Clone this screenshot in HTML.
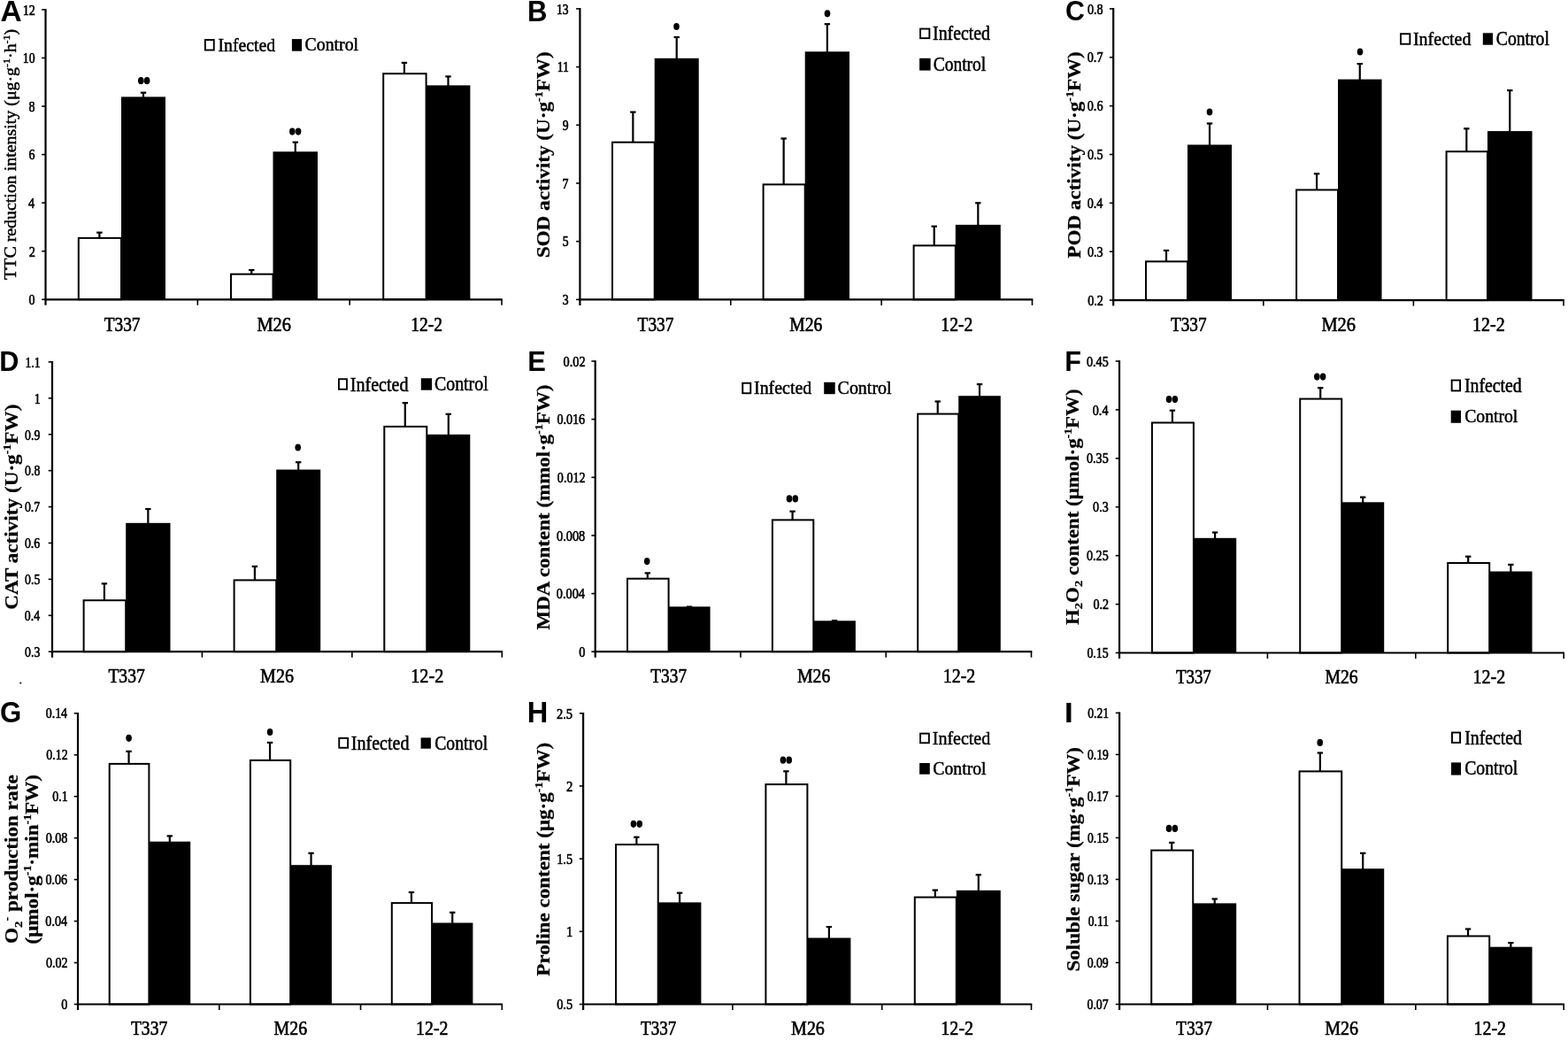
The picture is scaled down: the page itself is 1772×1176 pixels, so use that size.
<!DOCTYPE html>
<html><head><meta charset="utf-8"><title>Figure</title><style>html,body{margin:0;padding:0;background:#fff;width:1772px;height:1176px;overflow:hidden}svg{display:block;filter:blur(0.35px)}</style></head><body>
<svg width="1772" height="1176" viewBox="0 0 1772 1176"><rect width="1772" height="1176" fill="#fff"/><line x1="51.5" y1="10.1" x2="51.5" y2="344.8" stroke="#000" stroke-width="2.2"/>
<line x1="47.2" y1="10.9" x2="51.5" y2="10.9" stroke="#000" stroke-width="1.6"/>
<line x1="47.2" y1="65.467" x2="51.5" y2="65.467" stroke="#000" stroke-width="1.6"/>
<line x1="47.2" y1="120.033" x2="51.5" y2="120.033" stroke="#000" stroke-width="1.6"/>
<line x1="47.2" y1="174.6" x2="51.5" y2="174.6" stroke="#000" stroke-width="1.6"/>
<line x1="47.2" y1="229.167" x2="51.5" y2="229.167" stroke="#000" stroke-width="1.6"/>
<line x1="47.2" y1="283.733" x2="51.5" y2="283.733" stroke="#000" stroke-width="1.6"/>
<line x1="47.2" y1="338.3" x2="51.5" y2="338.3" stroke="#000" stroke-width="1.6"/>
<rect x="88.8" y="268.9" width="48.2" height="69.4" fill="#fff" stroke="#000" stroke-width="2"/>
<rect x="137" y="109.4" width="50" height="228.9" fill="#000"/>
<line x1="112.4" y1="268.9" x2="112.4" y2="262.7" stroke="#000" stroke-width="2.2"/>
<line x1="109.2" y1="262.7" x2="115.6" y2="262.7" stroke="#000" stroke-width="2.2"/>
<line x1="162" y1="110.4" x2="162" y2="104.7" stroke="#000" stroke-width="2.2"/>
<line x1="158.8" y1="104.7" x2="165.2" y2="104.7" stroke="#000" stroke-width="2.2"/>
<rect x="261" y="309.7" width="47.5" height="28.6" fill="#fff" stroke="#000" stroke-width="2"/>
<rect x="308.5" y="171.3" width="50.5" height="167" fill="#000"/>
<line x1="284.25" y1="309.7" x2="284.25" y2="305.1" stroke="#000" stroke-width="2.2"/>
<line x1="281.05" y1="305.1" x2="287.45" y2="305.1" stroke="#000" stroke-width="2.2"/>
<line x1="333.75" y1="172.3" x2="333.75" y2="160.7" stroke="#000" stroke-width="2.2"/>
<line x1="330.55" y1="160.7" x2="336.95" y2="160.7" stroke="#000" stroke-width="2.2"/>
<rect x="433.2" y="83.2" width="48.4" height="255.1" fill="#fff" stroke="#000" stroke-width="2"/>
<rect x="481.6" y="96.4" width="49.8" height="241.9" fill="#000"/>
<line x1="456.9" y1="83.2" x2="456.9" y2="70.9" stroke="#000" stroke-width="2.2"/>
<line x1="453.7" y1="70.9" x2="460.1" y2="70.9" stroke="#000" stroke-width="2.2"/>
<line x1="506.5" y1="97.4" x2="506.5" y2="86.4" stroke="#000" stroke-width="2.2"/>
<line x1="503.3" y1="86.4" x2="509.7" y2="86.4" stroke="#000" stroke-width="2.2"/>
<line x1="50.4" y1="338.3" x2="567.8" y2="338.3" stroke="#000" stroke-width="2.2"/>
<line x1="223.333" y1="338.3" x2="223.333" y2="344.8" stroke="#000" stroke-width="1.6"/>
<line x1="395.167" y1="338.3" x2="395.167" y2="344.8" stroke="#000" stroke-width="1.6"/>
<line x1="567" y1="338.3" x2="567" y2="344.8" stroke="#000" stroke-width="1.6"/>
<ellipse cx="159.3" cy="91.2" rx="3.3" ry="4.1" fill="#000"/>
<ellipse cx="166.1" cy="91.2" rx="3.3" ry="4.1" fill="#000"/>
<ellipse cx="330.3" cy="148.6" rx="3.3" ry="4.1" fill="#000"/>
<ellipse cx="337.1" cy="148.6" rx="3.3" ry="4.1" fill="#000"/>
<rect x="231.85" y="45.05" width="9.9" height="11.5" fill="#fff" stroke="#000" stroke-width="1.9"/>
<rect x="329.9" y="44.1" width="11.2" height="13.6" fill="#000"/>
<line x1="655.4" y1="9.1" x2="655.4" y2="344.9" stroke="#000" stroke-width="2.2"/>
<line x1="651.1" y1="9.9" x2="655.4" y2="9.9" stroke="#000" stroke-width="1.6"/>
<line x1="651.1" y1="75.6" x2="655.4" y2="75.6" stroke="#000" stroke-width="1.6"/>
<line x1="651.1" y1="141.3" x2="655.4" y2="141.3" stroke="#000" stroke-width="1.6"/>
<line x1="651.1" y1="207" x2="655.4" y2="207" stroke="#000" stroke-width="1.6"/>
<line x1="651.1" y1="272.7" x2="655.4" y2="272.7" stroke="#000" stroke-width="1.6"/>
<line x1="651.1" y1="338.4" x2="655.4" y2="338.4" stroke="#000" stroke-width="1.6"/>
<rect x="692" y="160.7" width="47.7" height="177.7" fill="#fff" stroke="#000" stroke-width="2"/>
<rect x="739.7" y="65.8" width="50" height="272.6" fill="#000"/>
<line x1="715.35" y1="160.7" x2="715.35" y2="126.6" stroke="#000" stroke-width="2.2"/>
<line x1="712.15" y1="126.6" x2="718.55" y2="126.6" stroke="#000" stroke-width="2.2"/>
<line x1="764.7" y1="66.8" x2="764.7" y2="42" stroke="#000" stroke-width="2.2"/>
<line x1="761.5" y1="42" x2="767.9" y2="42" stroke="#000" stroke-width="2.2"/>
<rect x="862.6" y="208.4" width="47.1" height="130" fill="#fff" stroke="#000" stroke-width="2"/>
<rect x="909.7" y="58.3" width="50.3" height="280.1" fill="#000"/>
<line x1="885.65" y1="208.4" x2="885.65" y2="156.5" stroke="#000" stroke-width="2.2"/>
<line x1="882.45" y1="156.5" x2="888.85" y2="156.5" stroke="#000" stroke-width="2.2"/>
<line x1="934.85" y1="59.3" x2="934.85" y2="27.2" stroke="#000" stroke-width="2.2"/>
<line x1="931.65" y1="27.2" x2="938.05" y2="27.2" stroke="#000" stroke-width="2.2"/>
<rect x="1032.6" y="277.4" width="47.2" height="61" fill="#fff" stroke="#000" stroke-width="2"/>
<rect x="1079.8" y="253.9" width="51" height="84.5" fill="#000"/>
<line x1="1055.7" y1="277.4" x2="1055.7" y2="255.7" stroke="#000" stroke-width="2.2"/>
<line x1="1052.5" y1="255.7" x2="1058.9" y2="255.7" stroke="#000" stroke-width="2.2"/>
<line x1="1105.3" y1="254.9" x2="1105.3" y2="229.3" stroke="#000" stroke-width="2.2"/>
<line x1="1102.1" y1="229.3" x2="1108.5" y2="229.3" stroke="#000" stroke-width="2.2"/>
<line x1="654.3" y1="338.4" x2="1167.3" y2="338.4" stroke="#000" stroke-width="2.2"/>
<line x1="825.767" y1="338.4" x2="825.767" y2="344.9" stroke="#000" stroke-width="1.6"/>
<line x1="996.133" y1="338.4" x2="996.133" y2="344.9" stroke="#000" stroke-width="1.6"/>
<line x1="1166.5" y1="338.4" x2="1166.5" y2="344.9" stroke="#000" stroke-width="1.6"/>
<ellipse cx="764.5" cy="30" rx="3.3" ry="4.1" fill="#000"/>
<ellipse cx="935" cy="15.3" rx="3.3" ry="4.1" fill="#000"/>
<rect x="1040.05" y="32.55" width="10.3" height="10.6" fill="#fff" stroke="#000" stroke-width="1.9"/>
<rect x="1039.1" y="65.8" width="12.5" height="13.8" fill="#000"/>
<line x1="1258.2" y1="9.1" x2="1258.2" y2="345.6" stroke="#000" stroke-width="2.2"/>
<line x1="1253.9" y1="9.9" x2="1258.2" y2="9.9" stroke="#000" stroke-width="1.6"/>
<line x1="1253.9" y1="64.767" x2="1258.2" y2="64.767" stroke="#000" stroke-width="1.6"/>
<line x1="1253.9" y1="119.633" x2="1258.2" y2="119.633" stroke="#000" stroke-width="1.6"/>
<line x1="1253.9" y1="174.5" x2="1258.2" y2="174.5" stroke="#000" stroke-width="1.6"/>
<line x1="1253.9" y1="229.367" x2="1258.2" y2="229.367" stroke="#000" stroke-width="1.6"/>
<line x1="1253.9" y1="284.233" x2="1258.2" y2="284.233" stroke="#000" stroke-width="1.6"/>
<line x1="1253.9" y1="339.1" x2="1258.2" y2="339.1" stroke="#000" stroke-width="1.6"/>
<rect x="1295" y="295.4" width="47" height="43.7" fill="#fff" stroke="#000" stroke-width="2"/>
<rect x="1342" y="163.5" width="50" height="175.6" fill="#000"/>
<line x1="1318" y1="295.4" x2="1318" y2="283" stroke="#000" stroke-width="2.2"/>
<line x1="1314.8" y1="283" x2="1321.2" y2="283" stroke="#000" stroke-width="2.2"/>
<line x1="1367" y1="164.5" x2="1367" y2="139.5" stroke="#000" stroke-width="2.2"/>
<line x1="1363.8" y1="139.5" x2="1370.2" y2="139.5" stroke="#000" stroke-width="2.2"/>
<rect x="1465.1" y="214.5" width="46.9" height="124.6" fill="#fff" stroke="#000" stroke-width="2"/>
<rect x="1512" y="89.6" width="49.5" height="249.5" fill="#000"/>
<line x1="1488.05" y1="214.5" x2="1488.05" y2="196.3" stroke="#000" stroke-width="2.2"/>
<line x1="1484.85" y1="196.3" x2="1491.25" y2="196.3" stroke="#000" stroke-width="2.2"/>
<line x1="1536.75" y1="90.6" x2="1536.75" y2="72.1" stroke="#000" stroke-width="2.2"/>
<line x1="1533.55" y1="72.1" x2="1539.95" y2="72.1" stroke="#000" stroke-width="2.2"/>
<rect x="1634.6" y="171.2" width="46.4" height="167.9" fill="#fff" stroke="#000" stroke-width="2"/>
<rect x="1681" y="148.1" width="50.5" height="191" fill="#000"/>
<line x1="1657.3" y1="171.2" x2="1657.3" y2="145.3" stroke="#000" stroke-width="2.2"/>
<line x1="1654.1" y1="145.3" x2="1660.5" y2="145.3" stroke="#000" stroke-width="2.2"/>
<line x1="1706.25" y1="149.1" x2="1706.25" y2="102.1" stroke="#000" stroke-width="2.2"/>
<line x1="1703.05" y1="102.1" x2="1709.45" y2="102.1" stroke="#000" stroke-width="2.2"/>
<line x1="1257.1" y1="339.1" x2="1767.8" y2="339.1" stroke="#000" stroke-width="2.2"/>
<line x1="1427.8" y1="339.1" x2="1427.8" y2="345.6" stroke="#000" stroke-width="1.6"/>
<line x1="1597.4" y1="339.1" x2="1597.4" y2="345.6" stroke="#000" stroke-width="1.6"/>
<line x1="1767" y1="339.1" x2="1767" y2="345.6" stroke="#000" stroke-width="1.6"/>
<ellipse cx="1367" cy="126.5" rx="3.3" ry="4.1" fill="#000"/>
<ellipse cx="1537" cy="58.5" rx="3.3" ry="4.1" fill="#000"/>
<rect x="1582.95" y="38.25" width="10.4" height="11.5" fill="#fff" stroke="#000" stroke-width="1.9"/>
<rect x="1675.8" y="37.3" width="11.2" height="13.4" fill="#000"/>
<line x1="59" y1="408.1" x2="59" y2="742.7" stroke="#000" stroke-width="2.2"/>
<line x1="54.7" y1="408.9" x2="59" y2="408.9" stroke="#000" stroke-width="1.6"/>
<line x1="54.7" y1="449.812" x2="59" y2="449.812" stroke="#000" stroke-width="1.6"/>
<line x1="54.7" y1="490.725" x2="59" y2="490.725" stroke="#000" stroke-width="1.6"/>
<line x1="54.7" y1="531.638" x2="59" y2="531.638" stroke="#000" stroke-width="1.6"/>
<line x1="54.7" y1="572.55" x2="59" y2="572.55" stroke="#000" stroke-width="1.6"/>
<line x1="54.7" y1="613.463" x2="59" y2="613.463" stroke="#000" stroke-width="1.6"/>
<line x1="54.7" y1="654.375" x2="59" y2="654.375" stroke="#000" stroke-width="1.6"/>
<line x1="54.7" y1="695.288" x2="59" y2="695.288" stroke="#000" stroke-width="1.6"/>
<line x1="54.7" y1="736.2" x2="59" y2="736.2" stroke="#000" stroke-width="1.6"/>
<rect x="94.6" y="678.2" width="47.6" height="58" fill="#fff" stroke="#000" stroke-width="2"/>
<rect x="142.2" y="590.8" width="50.3" height="145.4" fill="#000"/>
<line x1="117.9" y1="678.2" x2="117.9" y2="659.3" stroke="#000" stroke-width="2.2"/>
<line x1="114.7" y1="659.3" x2="121.1" y2="659.3" stroke="#000" stroke-width="2.2"/>
<line x1="167.35" y1="591.8" x2="167.35" y2="575" stroke="#000" stroke-width="2.2"/>
<line x1="164.15" y1="575" x2="170.55" y2="575" stroke="#000" stroke-width="2.2"/>
<rect x="264.6" y="655.4" width="47.6" height="80.8" fill="#fff" stroke="#000" stroke-width="2"/>
<rect x="312.2" y="530.5" width="50" height="205.7" fill="#000"/>
<line x1="287.9" y1="655.4" x2="287.9" y2="639.9" stroke="#000" stroke-width="2.2"/>
<line x1="284.7" y1="639.9" x2="291.1" y2="639.9" stroke="#000" stroke-width="2.2"/>
<line x1="337.2" y1="531.5" x2="337.2" y2="522.2" stroke="#000" stroke-width="2.2"/>
<line x1="334" y1="522.2" x2="340.4" y2="522.2" stroke="#000" stroke-width="2.2"/>
<rect x="434.3" y="481.9" width="48" height="254.3" fill="#fff" stroke="#000" stroke-width="2"/>
<rect x="482.3" y="490.8" width="49" height="245.4" fill="#000"/>
<line x1="457.8" y1="481.9" x2="457.8" y2="455.2" stroke="#000" stroke-width="2.2"/>
<line x1="454.6" y1="455.2" x2="461" y2="455.2" stroke="#000" stroke-width="2.2"/>
<line x1="506.8" y1="491.8" x2="506.8" y2="467.8" stroke="#000" stroke-width="2.2"/>
<line x1="503.6" y1="467.8" x2="510" y2="467.8" stroke="#000" stroke-width="2.2"/>
<line x1="57.9" y1="736.2" x2="568.1" y2="736.2" stroke="#000" stroke-width="2.2"/>
<line x1="228.433" y1="736.2" x2="228.433" y2="742.7" stroke="#000" stroke-width="1.6"/>
<line x1="397.867" y1="736.2" x2="397.867" y2="742.7" stroke="#000" stroke-width="1.6"/>
<line x1="567.3" y1="736.2" x2="567.3" y2="742.7" stroke="#000" stroke-width="1.6"/>
<ellipse cx="336.7" cy="505.5" rx="3.3" ry="4.1" fill="#000"/>
<rect x="382.95" y="428.25" width="9" height="11.5" fill="#fff" stroke="#000" stroke-width="1.9"/>
<rect x="475.8" y="427.3" width="12.3" height="13.4" fill="#000"/>
<line x1="672.7" y1="407.2" x2="672.7" y2="742.7" stroke="#000" stroke-width="2.2"/>
<line x1="668.4" y1="408" x2="672.7" y2="408" stroke="#000" stroke-width="1.6"/>
<line x1="668.4" y1="473.64" x2="672.7" y2="473.64" stroke="#000" stroke-width="1.6"/>
<line x1="668.4" y1="539.28" x2="672.7" y2="539.28" stroke="#000" stroke-width="1.6"/>
<line x1="668.4" y1="604.92" x2="672.7" y2="604.92" stroke="#000" stroke-width="1.6"/>
<line x1="668.4" y1="670.56" x2="672.7" y2="670.56" stroke="#000" stroke-width="1.6"/>
<line x1="668.4" y1="736.2" x2="672.7" y2="736.2" stroke="#000" stroke-width="1.6"/>
<rect x="709" y="653.7" width="46.6" height="82.5" fill="#fff" stroke="#000" stroke-width="2"/>
<rect x="755.6" y="685.3" width="47" height="50.9" fill="#000"/>
<line x1="731.8" y1="653.7" x2="731.8" y2="647.4" stroke="#000" stroke-width="2.2"/>
<line x1="728.6" y1="647.4" x2="735" y2="647.4" stroke="#000" stroke-width="2.2"/>
<line x1="779.1" y1="686.3" x2="779.1" y2="685.5" stroke="#000" stroke-width="2.2"/>
<line x1="775.9" y1="685.5" x2="782.3" y2="685.5" stroke="#000" stroke-width="2.2"/>
<rect x="872.9" y="587.4" width="46.4" height="148.8" fill="#fff" stroke="#000" stroke-width="2"/>
<rect x="919.3" y="701.3" width="47.6" height="34.9" fill="#000"/>
<line x1="895.6" y1="587.4" x2="895.6" y2="577.7" stroke="#000" stroke-width="2.2"/>
<line x1="892.4" y1="577.7" x2="898.8" y2="577.7" stroke="#000" stroke-width="2.2"/>
<line x1="943.1" y1="702.3" x2="943.1" y2="701.1" stroke="#000" stroke-width="2.2"/>
<line x1="939.9" y1="701.1" x2="946.3" y2="701.1" stroke="#000" stroke-width="2.2"/>
<rect x="1037.2" y="467.6" width="46" height="268.6" fill="#fff" stroke="#000" stroke-width="2"/>
<rect x="1083.2" y="447.2" width="47.6" height="289" fill="#000"/>
<line x1="1059.7" y1="467.6" x2="1059.7" y2="453.5" stroke="#000" stroke-width="2.2"/>
<line x1="1056.5" y1="453.5" x2="1062.9" y2="453.5" stroke="#000" stroke-width="2.2"/>
<line x1="1107" y1="448.2" x2="1107" y2="434.1" stroke="#000" stroke-width="2.2"/>
<line x1="1103.8" y1="434.1" x2="1110.2" y2="434.1" stroke="#000" stroke-width="2.2"/>
<line x1="671.6" y1="736.2" x2="1166.3" y2="736.2" stroke="#000" stroke-width="2.2"/>
<line x1="836.967" y1="736.2" x2="836.967" y2="742.7" stroke="#000" stroke-width="1.6"/>
<line x1="1001.233" y1="736.2" x2="1001.233" y2="742.7" stroke="#000" stroke-width="1.6"/>
<line x1="1165.5" y1="736.2" x2="1165.5" y2="742.7" stroke="#000" stroke-width="1.6"/>
<ellipse cx="731.2" cy="634.1" rx="3.3" ry="4.1" fill="#000"/>
<ellipse cx="892" cy="563.4" rx="3.3" ry="4.1" fill="#000"/>
<ellipse cx="898.8" cy="563.4" rx="3.3" ry="4.1" fill="#000"/>
<rect x="839.25" y="432.75" width="9" height="11.5" fill="#fff" stroke="#000" stroke-width="1.9"/>
<rect x="931.2" y="431.8" width="12.5" height="13.4" fill="#000"/>
<line x1="1265" y1="407.2" x2="1265" y2="744" stroke="#000" stroke-width="2.2"/>
<line x1="1260.7" y1="408" x2="1265" y2="408" stroke="#000" stroke-width="1.6"/>
<line x1="1260.7" y1="462.917" x2="1265" y2="462.917" stroke="#000" stroke-width="1.6"/>
<line x1="1260.7" y1="517.833" x2="1265" y2="517.833" stroke="#000" stroke-width="1.6"/>
<line x1="1260.7" y1="572.75" x2="1265" y2="572.75" stroke="#000" stroke-width="1.6"/>
<line x1="1260.7" y1="627.667" x2="1265" y2="627.667" stroke="#000" stroke-width="1.6"/>
<line x1="1260.7" y1="682.583" x2="1265" y2="682.583" stroke="#000" stroke-width="1.6"/>
<line x1="1260.7" y1="737.5" x2="1265" y2="737.5" stroke="#000" stroke-width="1.6"/>
<rect x="1301.9" y="477.5" width="47" height="260" fill="#fff" stroke="#000" stroke-width="2"/>
<rect x="1348.9" y="607.8" width="48.3" height="129.7" fill="#000"/>
<line x1="1324.9" y1="477.5" x2="1324.9" y2="463.7" stroke="#000" stroke-width="2.2"/>
<line x1="1321.7" y1="463.7" x2="1328.1" y2="463.7" stroke="#000" stroke-width="2.2"/>
<line x1="1373.05" y1="608.8" x2="1373.05" y2="601.5" stroke="#000" stroke-width="2.2"/>
<line x1="1369.85" y1="601.5" x2="1376.25" y2="601.5" stroke="#000" stroke-width="2.2"/>
<rect x="1469.2" y="450.6" width="47" height="286.9" fill="#fff" stroke="#000" stroke-width="2"/>
<rect x="1516.2" y="567.3" width="48" height="170.2" fill="#000"/>
<line x1="1492.2" y1="450.6" x2="1492.2" y2="438.2" stroke="#000" stroke-width="2.2"/>
<line x1="1489" y1="438.2" x2="1495.4" y2="438.2" stroke="#000" stroke-width="2.2"/>
<line x1="1540.2" y1="568.3" x2="1540.2" y2="561.7" stroke="#000" stroke-width="2.2"/>
<line x1="1537" y1="561.7" x2="1543.4" y2="561.7" stroke="#000" stroke-width="2.2"/>
<rect x="1636.2" y="636" width="47" height="101.5" fill="#fff" stroke="#000" stroke-width="2"/>
<rect x="1683.2" y="645.5" width="48.3" height="92" fill="#000"/>
<line x1="1659.2" y1="636" x2="1659.2" y2="628.7" stroke="#000" stroke-width="2.2"/>
<line x1="1656" y1="628.7" x2="1662.4" y2="628.7" stroke="#000" stroke-width="2.2"/>
<line x1="1707.35" y1="646.5" x2="1707.35" y2="637.9" stroke="#000" stroke-width="2.2"/>
<line x1="1704.15" y1="637.9" x2="1710.55" y2="637.9" stroke="#000" stroke-width="2.2"/>
<line x1="1263.9" y1="737.5" x2="1768" y2="737.5" stroke="#000" stroke-width="2.2"/>
<line x1="1432.4" y1="737.5" x2="1432.4" y2="744" stroke="#000" stroke-width="1.6"/>
<line x1="1599.8" y1="737.5" x2="1599.8" y2="744" stroke="#000" stroke-width="1.6"/>
<line x1="1767.2" y1="737.5" x2="1767.2" y2="744" stroke="#000" stroke-width="1.6"/>
<ellipse cx="1321" cy="451.1" rx="3.3" ry="4.1" fill="#000"/>
<ellipse cx="1327.8" cy="451.1" rx="3.3" ry="4.1" fill="#000"/>
<ellipse cx="1488.3" cy="425.6" rx="3.3" ry="4.1" fill="#000"/>
<ellipse cx="1495.1" cy="425.6" rx="3.3" ry="4.1" fill="#000"/>
<rect x="1640.65" y="429.55" width="9.4" height="11.9" fill="#fff" stroke="#000" stroke-width="1.9"/>
<rect x="1639.7" y="463.7" width="11.3" height="14.1" fill="#000"/>
<line x1="88" y1="805" x2="88" y2="1141" stroke="#000" stroke-width="2.2"/>
<line x1="83.7" y1="805.8" x2="88" y2="805.8" stroke="#000" stroke-width="1.6"/>
<line x1="83.7" y1="852.757" x2="88" y2="852.757" stroke="#000" stroke-width="1.6"/>
<line x1="83.7" y1="899.714" x2="88" y2="899.714" stroke="#000" stroke-width="1.6"/>
<line x1="83.7" y1="946.671" x2="88" y2="946.671" stroke="#000" stroke-width="1.6"/>
<line x1="83.7" y1="993.629" x2="88" y2="993.629" stroke="#000" stroke-width="1.6"/>
<line x1="83.7" y1="1040.586" x2="88" y2="1040.586" stroke="#000" stroke-width="1.6"/>
<line x1="83.7" y1="1087.543" x2="88" y2="1087.543" stroke="#000" stroke-width="1.6"/>
<line x1="83.7" y1="1134.5" x2="88" y2="1134.5" stroke="#000" stroke-width="1.6"/>
<rect x="123.7" y="862.9" width="44.7" height="271.6" fill="#fff" stroke="#000" stroke-width="2"/>
<rect x="168.4" y="950.7" width="46.8" height="183.8" fill="#000"/>
<line x1="145.55" y1="862.9" x2="145.55" y2="848.8" stroke="#000" stroke-width="2.2"/>
<line x1="142.35" y1="848.8" x2="148.75" y2="848.8" stroke="#000" stroke-width="2.2"/>
<line x1="191.8" y1="951.7" x2="191.8" y2="944.4" stroke="#000" stroke-width="2.2"/>
<line x1="188.6" y1="944.4" x2="195" y2="944.4" stroke="#000" stroke-width="2.2"/>
<rect x="282.9" y="858.9" width="45.3" height="275.6" fill="#fff" stroke="#000" stroke-width="2"/>
<rect x="328.2" y="977.2" width="46.7" height="157.3" fill="#000"/>
<line x1="305.05" y1="858.9" x2="305.05" y2="838.9" stroke="#000" stroke-width="2.2"/>
<line x1="301.85" y1="838.9" x2="308.25" y2="838.9" stroke="#000" stroke-width="2.2"/>
<line x1="351.55" y1="978.2" x2="351.55" y2="963.8" stroke="#000" stroke-width="2.2"/>
<line x1="348.35" y1="963.8" x2="354.75" y2="963.8" stroke="#000" stroke-width="2.2"/>
<rect x="442.8" y="1020.1" width="45.3" height="114.4" fill="#fff" stroke="#000" stroke-width="2"/>
<rect x="488.1" y="1042.5" width="46.3" height="92" fill="#000"/>
<line x1="464.95" y1="1020.1" x2="464.95" y2="1008" stroke="#000" stroke-width="2.2"/>
<line x1="461.75" y1="1008" x2="468.15" y2="1008" stroke="#000" stroke-width="2.2"/>
<line x1="511.25" y1="1043.5" x2="511.25" y2="1030.8" stroke="#000" stroke-width="2.2"/>
<line x1="508.05" y1="1030.8" x2="514.45" y2="1030.8" stroke="#000" stroke-width="2.2"/>
<line x1="86.9" y1="1134.5" x2="568.1" y2="1134.5" stroke="#000" stroke-width="2.2"/>
<line x1="247.767" y1="1134.5" x2="247.767" y2="1141" stroke="#000" stroke-width="1.6"/>
<line x1="407.533" y1="1134.5" x2="407.533" y2="1141" stroke="#000" stroke-width="1.6"/>
<line x1="567.3" y1="1134.5" x2="567.3" y2="1141" stroke="#000" stroke-width="1.6"/>
<ellipse cx="145.6" cy="833.8" rx="3.3" ry="4.1" fill="#000"/>
<ellipse cx="305.1" cy="827" rx="3.3" ry="4.1" fill="#000"/>
<rect x="383.25" y="833.85" width="9.9" height="10.9" fill="#fff" stroke="#000" stroke-width="1.9"/>
<rect x="475.6" y="833.4" width="11.3" height="12.3" fill="#000"/>
<line x1="659.1" y1="805" x2="659.1" y2="1141" stroke="#000" stroke-width="2.2"/>
<line x1="654.8" y1="805.8" x2="659.1" y2="805.8" stroke="#000" stroke-width="1.6"/>
<line x1="654.8" y1="887.975" x2="659.1" y2="887.975" stroke="#000" stroke-width="1.6"/>
<line x1="654.8" y1="970.15" x2="659.1" y2="970.15" stroke="#000" stroke-width="1.6"/>
<line x1="654.8" y1="1052.325" x2="659.1" y2="1052.325" stroke="#000" stroke-width="1.6"/>
<line x1="654.8" y1="1134.5" x2="659.1" y2="1134.5" stroke="#000" stroke-width="1.6"/>
<rect x="696" y="954.1" width="47.7" height="180.4" fill="#fff" stroke="#000" stroke-width="2"/>
<rect x="743.7" y="1019.4" width="48.7" height="115.1" fill="#000"/>
<line x1="719.35" y1="954.1" x2="719.35" y2="945.7" stroke="#000" stroke-width="2.2"/>
<line x1="716.15" y1="945.7" x2="722.55" y2="945.7" stroke="#000" stroke-width="2.2"/>
<line x1="768.05" y1="1020.4" x2="768.05" y2="1008.7" stroke="#000" stroke-width="2.2"/>
<line x1="764.85" y1="1008.7" x2="771.25" y2="1008.7" stroke="#000" stroke-width="2.2"/>
<rect x="865.4" y="886.1" width="47" height="248.4" fill="#fff" stroke="#000" stroke-width="2"/>
<rect x="912.4" y="1059.5" width="49" height="75" fill="#000"/>
<line x1="888.4" y1="886.1" x2="888.4" y2="871.3" stroke="#000" stroke-width="2.2"/>
<line x1="885.2" y1="871.3" x2="891.6" y2="871.3" stroke="#000" stroke-width="2.2"/>
<line x1="936.9" y1="1060.5" x2="936.9" y2="1047.1" stroke="#000" stroke-width="2.2"/>
<line x1="933.7" y1="1047.1" x2="940.1" y2="1047.1" stroke="#000" stroke-width="2.2"/>
<rect x="1033.8" y="1013.6" width="47" height="120.9" fill="#fff" stroke="#000" stroke-width="2"/>
<rect x="1080.8" y="1005.8" width="50" height="128.7" fill="#000"/>
<line x1="1056.8" y1="1013.6" x2="1056.8" y2="1005.6" stroke="#000" stroke-width="2.2"/>
<line x1="1053.6" y1="1005.6" x2="1060" y2="1005.6" stroke="#000" stroke-width="2.2"/>
<line x1="1105.8" y1="1006.8" x2="1105.8" y2="988.3" stroke="#000" stroke-width="2.2"/>
<line x1="1102.6" y1="988.3" x2="1109" y2="988.3" stroke="#000" stroke-width="2.2"/>
<line x1="658" y1="1134.5" x2="1166.3" y2="1134.5" stroke="#000" stroke-width="2.2"/>
<line x1="827.9" y1="1134.5" x2="827.9" y2="1141" stroke="#000" stroke-width="1.6"/>
<line x1="996.7" y1="1134.5" x2="996.7" y2="1141" stroke="#000" stroke-width="1.6"/>
<line x1="1165.5" y1="1134.5" x2="1165.5" y2="1141" stroke="#000" stroke-width="1.6"/>
<ellipse cx="715.9" cy="930.8" rx="3.3" ry="4.1" fill="#000"/>
<ellipse cx="722.7" cy="930.8" rx="3.3" ry="4.1" fill="#000"/>
<ellipse cx="884.9" cy="858.7" rx="3.3" ry="4.1" fill="#000"/>
<ellipse cx="891.7" cy="858.7" rx="3.3" ry="4.1" fill="#000"/>
<rect x="1040.05" y="828.65" width="9.8" height="10.6" fill="#fff" stroke="#000" stroke-width="1.9"/>
<rect x="1039.1" y="862" width="11.7" height="12.7" fill="#000"/>
<line x1="1265.1" y1="804.6" x2="1265.1" y2="1141" stroke="#000" stroke-width="2.2"/>
<line x1="1260.8" y1="805.4" x2="1265.1" y2="805.4" stroke="#000" stroke-width="1.6"/>
<line x1="1260.8" y1="852.414" x2="1265.1" y2="852.414" stroke="#000" stroke-width="1.6"/>
<line x1="1260.8" y1="899.429" x2="1265.1" y2="899.429" stroke="#000" stroke-width="1.6"/>
<line x1="1260.8" y1="946.443" x2="1265.1" y2="946.443" stroke="#000" stroke-width="1.6"/>
<line x1="1260.8" y1="993.457" x2="1265.1" y2="993.457" stroke="#000" stroke-width="1.6"/>
<line x1="1260.8" y1="1040.471" x2="1265.1" y2="1040.471" stroke="#000" stroke-width="1.6"/>
<line x1="1260.8" y1="1087.486" x2="1265.1" y2="1087.486" stroke="#000" stroke-width="1.6"/>
<line x1="1260.8" y1="1134.5" x2="1265.1" y2="1134.5" stroke="#000" stroke-width="1.6"/>
<rect x="1301.2" y="960.6" width="47" height="173.9" fill="#fff" stroke="#000" stroke-width="2"/>
<rect x="1348.2" y="1020.4" width="49" height="114.1" fill="#000"/>
<line x1="1324.2" y1="960.6" x2="1324.2" y2="951.9" stroke="#000" stroke-width="2.2"/>
<line x1="1321" y1="951.9" x2="1327.4" y2="951.9" stroke="#000" stroke-width="2.2"/>
<line x1="1372.7" y1="1021.4" x2="1372.7" y2="1015.5" stroke="#000" stroke-width="2.2"/>
<line x1="1369.5" y1="1015.5" x2="1375.9" y2="1015.5" stroke="#000" stroke-width="2.2"/>
<rect x="1468.5" y="871.4" width="47.7" height="263.1" fill="#fff" stroke="#000" stroke-width="2"/>
<rect x="1516.2" y="981.3" width="48" height="153.2" fill="#000"/>
<line x1="1491.85" y1="871.4" x2="1491.85" y2="850.5" stroke="#000" stroke-width="2.2"/>
<line x1="1488.65" y1="850.5" x2="1495.05" y2="850.5" stroke="#000" stroke-width="2.2"/>
<line x1="1540.2" y1="982.3" x2="1540.2" y2="963.8" stroke="#000" stroke-width="2.2"/>
<line x1="1537" y1="963.8" x2="1543.4" y2="963.8" stroke="#000" stroke-width="2.2"/>
<rect x="1635.9" y="1057.5" width="47.3" height="77" fill="#fff" stroke="#000" stroke-width="2"/>
<rect x="1683.2" y="1069.7" width="48.3" height="64.8" fill="#000"/>
<line x1="1659.05" y1="1057.5" x2="1659.05" y2="1049.5" stroke="#000" stroke-width="2.2"/>
<line x1="1655.85" y1="1049.5" x2="1662.25" y2="1049.5" stroke="#000" stroke-width="2.2"/>
<line x1="1707.35" y1="1070.7" x2="1707.35" y2="1065.1" stroke="#000" stroke-width="2.2"/>
<line x1="1704.15" y1="1065.1" x2="1710.55" y2="1065.1" stroke="#000" stroke-width="2.2"/>
<line x1="1264" y1="1134.5" x2="1768" y2="1134.5" stroke="#000" stroke-width="2.2"/>
<line x1="1432.467" y1="1134.5" x2="1432.467" y2="1141" stroke="#000" stroke-width="1.6"/>
<line x1="1599.833" y1="1134.5" x2="1599.833" y2="1141" stroke="#000" stroke-width="1.6"/>
<line x1="1767.2" y1="1134.5" x2="1767.2" y2="1141" stroke="#000" stroke-width="1.6"/>
<ellipse cx="1321" cy="935.9" rx="3.3" ry="4.1" fill="#000"/>
<ellipse cx="1327.8" cy="935.9" rx="3.3" ry="4.1" fill="#000"/>
<ellipse cx="1491.7" cy="838.9" rx="3.3" ry="4.1" fill="#000"/>
<rect x="1640.95" y="827.55" width="9.1" height="11.4" fill="#fff" stroke="#000" stroke-width="1.9"/>
<rect x="1640" y="861.4" width="11" height="14.2" fill="#000"/>
<circle cx="23.2" cy="771.6" r="1.1" fill="#222"/>
<text transform="matrix(0.335 0 0 0.329 0.395 24.129)" font-family='"Liberation Sans", Arial, sans-serif' font-weight="bold" font-size="100">A</text>
<text transform="matrix(0.142 0 0 0.174 25.651 17)" font-family='"Liberation Serif", "Times New Roman", serif' font-weight="normal" font-size="100" stroke="#000" stroke-width="3.794" stroke-linejoin="round">12</text>
<text transform="matrix(0.138 0 0 0.169 25.768 71.228)" font-family='"Liberation Serif", "Times New Roman", serif' font-weight="normal" font-size="100" stroke="#000" stroke-width="3.909" stroke-linejoin="round">10</text>
<text transform="matrix(0.14 0 0 0.172 32.565 125.79)" font-family='"Liberation Serif", "Times New Roman", serif' font-weight="normal" font-size="100" stroke="#000" stroke-width="3.852" stroke-linejoin="round">8</text>
<text transform="matrix(0.14 0 0 0.172 32.425 180.357)" font-family='"Liberation Serif", "Times New Roman", serif' font-weight="normal" font-size="100" stroke="#000" stroke-width="3.852" stroke-linejoin="round">6</text>
<text transform="matrix(0.144 0 0 0.177 32.079 235.267)" font-family='"Liberation Serif", "Times New Roman", serif' font-weight="normal" font-size="100" stroke="#000" stroke-width="3.737" stroke-linejoin="round">4</text>
<text transform="matrix(0.144 0 0 0.177 32.656 289.833)" font-family='"Liberation Serif", "Times New Roman", serif' font-weight="normal" font-size="100" stroke="#000" stroke-width="3.737" stroke-linejoin="round">2</text>
<text transform="matrix(0.14 0 0 0.172 32.565 344.057)" font-family='"Liberation Serif", "Times New Roman", serif' font-weight="normal" font-size="100" stroke="#000" stroke-width="3.852" stroke-linejoin="round">0</text>
<text transform="matrix(0.193 0 0 0.239 117.715 373.661)" font-family='"Liberation Serif", "Times New Roman", serif' font-weight="normal" font-size="100" stroke="#000" stroke-width="2.777" stroke-linejoin="round">T337</text>
<text transform="matrix(0.204 0 0 0.239 290.489 373.661)" font-family='"Liberation Serif", "Times New Roman", serif' font-weight="normal" font-size="100" stroke="#000" stroke-width="2.707" stroke-linejoin="round">M26</text>
<text transform="matrix(0.196 0 0 0.239 464.237 373.661)" font-family='"Liberation Serif", "Times New Roman", serif' font-weight="normal" font-size="100" stroke="#000" stroke-width="2.757" stroke-linejoin="round">12-2</text>
<text transform="matrix(0.198 0 0 0.21 246.457 57.64)" font-family='"Liberation Serif", "Times New Roman", serif' font-weight="normal" font-size="100" stroke="#000" stroke-width="2.452" stroke-linejoin="round">Infected</text>
<text transform="matrix(0.198 0 0 0.215 344.557 57.419)" font-family='"Liberation Serif", "Times New Roman", serif' font-weight="normal" font-size="100" stroke="#000" stroke-width="2.416" stroke-linejoin="round">Control</text>
<text transform="matrix(0 -0.199 0.18 0 17.8 315.899)" font-family='"Liberation Serif", "Times New Roman", serif' font-weight="normal" font-size="100" stroke="#000" stroke-width="2.634" stroke-linejoin="round"><tspan>TTC reduction intensity (μg·g</tspan><tspan dy="-39" font-size="60">-1</tspan><tspan dy="39">·h</tspan><tspan dy="-39" font-size="60">-1</tspan><tspan dy="39">)</tspan></text>
<text transform="matrix(0.311 0 0 0.325 595.92 23.8)" font-family='"Liberation Sans", Arial, sans-serif' font-weight="bold" font-size="100">B</text>
<text transform="matrix(0.135 0 0 0.163 629.037 15.537)" font-family='"Liberation Serif", "Times New Roman", serif' font-weight="normal" font-size="100" stroke="#000" stroke-width="4.031" stroke-linejoin="round">13</text>
<text transform="matrix(0.137 0 0 0.165 629.663 81.4)" font-family='"Liberation Serif", "Times New Roman", serif' font-weight="normal" font-size="100" stroke="#000" stroke-width="3.971" stroke-linejoin="round">11</text>
<text transform="matrix(0.137 0 0 0.165 635.695 146.935)" font-family='"Liberation Serif", "Times New Roman", serif' font-weight="normal" font-size="100" stroke="#000" stroke-width="3.971" stroke-linejoin="round">9</text>
<text transform="matrix(0.139 0 0 0.168 635.458 212.8)" font-family='"Liberation Serif", "Times New Roman", serif' font-weight="normal" font-size="100" stroke="#000" stroke-width="3.91" stroke-linejoin="round">7</text>
<text transform="matrix(0.137 0 0 0.165 635.695 278.335)" font-family='"Liberation Serif", "Times New Roman", serif' font-weight="normal" font-size="100" stroke="#000" stroke-width="3.971" stroke-linejoin="round">5</text>
<text transform="matrix(0.137 0 0 0.165 635.695 344.035)" font-family='"Liberation Serif", "Times New Roman", serif' font-weight="normal" font-size="100" stroke="#000" stroke-width="3.971" stroke-linejoin="round">3</text>
<text transform="matrix(0.193 0 0 0.239 720.615 373.661)" font-family='"Liberation Serif", "Times New Roman", serif' font-weight="normal" font-size="100" stroke="#000" stroke-width="2.777" stroke-linejoin="round">T337</text>
<text transform="matrix(0.197 0 0 0.239 892.208 373.661)" font-family='"Liberation Serif", "Times New Roman", serif' font-weight="normal" font-size="100" stroke="#000" stroke-width="2.748" stroke-linejoin="round">M26</text>
<text transform="matrix(0.197 0 0 0.239 1063.327 373.661)" font-family='"Liberation Serif", "Times New Roman", serif' font-weight="normal" font-size="100" stroke="#000" stroke-width="2.75" stroke-linejoin="round">12-2</text>
<text transform="matrix(0.198 0 0 0.224 1054.057 45.226)" font-family='"Liberation Serif", "Times New Roman", serif' font-weight="normal" font-size="100" stroke="#000" stroke-width="2.371" stroke-linejoin="round">Infected</text>
<text transform="matrix(0.195 0 0 0.231 1054.669 80.188)" font-family='"Liberation Serif", "Times New Roman", serif' font-weight="normal" font-size="100" stroke="#000" stroke-width="2.346" stroke-linejoin="round">Control</text>
<text transform="matrix(0 -0.232 0.205 0 620.8 291.359)" font-family='"Liberation Serif", "Times New Roman", serif' font-weight="bold" font-size="100" stroke="#000" stroke-width="1.146" stroke-linejoin="round"><tspan>SOD activity (U·g</tspan><tspan dy="-39" font-size="60">-1</tspan><tspan dy="39">FW)</tspan></text>
<text transform="matrix(0.303 0 0 0.315 1203.988 23.485)" font-family='"Liberation Sans", Arial, sans-serif' font-weight="bold" font-size="100">C</text>
<text transform="matrix(0.142 0 0 0.17 1228.909 15.61)" font-family='"Liberation Serif", "Times New Roman", serif' font-weight="normal" font-size="100" stroke="#000" stroke-width="3.843" stroke-linejoin="round">0.8</text>
<text transform="matrix(0.142 0 0 0.17 1228.767 70.476)" font-family='"Liberation Serif", "Times New Roman", serif' font-weight="normal" font-size="100" stroke="#000" stroke-width="3.843" stroke-linejoin="round">0.7</text>
<text transform="matrix(0.142 0 0 0.17 1228.767 125.343)" font-family='"Liberation Serif", "Times New Roman", serif' font-weight="normal" font-size="100" stroke="#000" stroke-width="3.843" stroke-linejoin="round">0.6</text>
<text transform="matrix(0.142 0 0 0.17 1228.909 180.21)" font-family='"Liberation Serif", "Times New Roman", serif' font-weight="normal" font-size="100" stroke="#000" stroke-width="3.843" stroke-linejoin="round">0.5</text>
<text transform="matrix(0.142 0 0 0.17 1228.625 235.076)" font-family='"Liberation Serif", "Times New Roman", serif' font-weight="normal" font-size="100" stroke="#000" stroke-width="3.843" stroke-linejoin="round">0.4</text>
<text transform="matrix(0.142 0 0 0.17 1228.909 289.943)" font-family='"Liberation Serif", "Times New Roman", serif' font-weight="normal" font-size="100" stroke="#000" stroke-width="3.843" stroke-linejoin="round">0.3</text>
<text transform="matrix(0.142 0 0 0.17 1229.193 344.81)" font-family='"Liberation Serif", "Times New Roman", serif' font-weight="normal" font-size="100" stroke="#000" stroke-width="3.843" stroke-linejoin="round">0.2</text>
<text transform="matrix(0.193 0 0 0.239 1322.915 373.661)" font-family='"Liberation Serif", "Times New Roman", serif' font-weight="normal" font-size="100" stroke="#000" stroke-width="2.777" stroke-linejoin="round">T337</text>
<text transform="matrix(0.204 0 0 0.239 1493.389 373.661)" font-family='"Liberation Serif", "Times New Roman", serif' font-weight="normal" font-size="100" stroke="#000" stroke-width="2.707" stroke-linejoin="round">M26</text>
<text transform="matrix(0.2 0 0 0.239 1664 373.661)" font-family='"Liberation Serif", "Times New Roman", serif' font-weight="normal" font-size="100" stroke="#000" stroke-width="2.731" stroke-linejoin="round">12-2</text>
<text transform="matrix(0.2 0 0 0.218 1596.95 51.132)" font-family='"Liberation Serif", "Times New Roman", serif' font-weight="normal" font-size="100" stroke="#000" stroke-width="2.392" stroke-linejoin="round">Infected</text>
<text transform="matrix(0.197 0 0 0.221 1690.762 50.908)" font-family='"Liberation Serif", "Times New Roman", serif' font-weight="normal" font-size="100" stroke="#000" stroke-width="2.392" stroke-linejoin="round">Control</text>
<text transform="matrix(0 -0.231 0.205 0 1220.7 291.662)" font-family='"Liberation Serif", "Times New Roman", serif' font-weight="bold" font-size="100" stroke="#000" stroke-width="1.148" stroke-linejoin="round"><tspan>POD activity (U·g</tspan><tspan dy="-39" font-size="60">-1</tspan><tspan dy="39">FW)</tspan></text>
<text transform="matrix(0.307 0 0 0.31 -0.746 419.1)" font-family='"Liberation Sans", Arial, sans-serif' font-weight="bold" font-size="100">D</text>
<text transform="matrix(0.138 0 0 0.175 28.383 414.925)" font-family='"Liberation Serif", "Times New Roman", serif' font-weight="normal" font-size="100" stroke="#000" stroke-width="3.839" stroke-linejoin="round">1.1</text>
<text transform="matrix(0.14 0 0 0.177 38.638 456.013)" font-family='"Liberation Serif", "Times New Roman", serif' font-weight="normal" font-size="100" stroke="#000" stroke-width="3.782" stroke-linejoin="round">1</text>
<text transform="matrix(0.138 0 0 0.175 28.107 496.576)" font-family='"Liberation Serif", "Times New Roman", serif' font-weight="normal" font-size="100" stroke="#000" stroke-width="3.839" stroke-linejoin="round">0.9</text>
<text transform="matrix(0.138 0 0 0.175 28.107 537.488)" font-family='"Liberation Serif", "Times New Roman", serif' font-weight="normal" font-size="100" stroke="#000" stroke-width="3.839" stroke-linejoin="round">0.8</text>
<text transform="matrix(0.138 0 0 0.175 27.969 578.401)" font-family='"Liberation Serif", "Times New Roman", serif' font-weight="normal" font-size="100" stroke="#000" stroke-width="3.839" stroke-linejoin="round">0.7</text>
<text transform="matrix(0.138 0 0 0.175 27.969 619.313)" font-family='"Liberation Serif", "Times New Roman", serif' font-weight="normal" font-size="100" stroke="#000" stroke-width="3.839" stroke-linejoin="round">0.6</text>
<text transform="matrix(0.138 0 0 0.175 28.107 660.226)" font-family='"Liberation Serif", "Times New Roman", serif' font-weight="normal" font-size="100" stroke="#000" stroke-width="3.839" stroke-linejoin="round">0.5</text>
<text transform="matrix(0.138 0 0 0.175 27.832 701.138)" font-family='"Liberation Serif", "Times New Roman", serif' font-weight="normal" font-size="100" stroke="#000" stroke-width="3.839" stroke-linejoin="round">0.4</text>
<text transform="matrix(0.138 0 0 0.175 28.107 742.051)" font-family='"Liberation Serif", "Times New Roman", serif' font-weight="normal" font-size="100" stroke="#000" stroke-width="3.839" stroke-linejoin="round">0.3</text>
<text transform="matrix(0.196 0 0 0.239 122.408 771.461)" font-family='"Liberation Serif", "Times New Roman", serif' font-weight="normal" font-size="100" stroke="#000" stroke-width="2.755" stroke-linejoin="round">T337</text>
<text transform="matrix(0.201 0 0 0.239 294.097 771.461)" font-family='"Liberation Serif", "Times New Roman", serif' font-weight="normal" font-size="100" stroke="#000" stroke-width="2.724" stroke-linejoin="round">M26</text>
<text transform="matrix(0.203 0 0 0.239 464.173 771.461)" font-family='"Liberation Serif", "Times New Roman", serif' font-weight="normal" font-size="100" stroke="#000" stroke-width="2.713" stroke-linejoin="round">12-2</text>
<text transform="matrix(0.201 0 0 0.224 395.745 441.526)" font-family='"Liberation Serif", "Times New Roman", serif' font-weight="normal" font-size="100" stroke="#000" stroke-width="2.354" stroke-linejoin="round">Infected</text>
<text transform="matrix(0.199 0 0 0.227 490.954 441.296)" font-family='"Liberation Serif", "Times New Roman", serif' font-weight="normal" font-size="100" stroke="#000" stroke-width="2.349" stroke-linejoin="round">Control</text>
<text transform="matrix(0 -0.232 0.205 0 20.2 688.858)" font-family='"Liberation Serif", "Times New Roman", serif' font-weight="bold" font-size="100" stroke="#000" stroke-width="1.146" stroke-linejoin="round"><tspan>CAT activity (U·g</tspan><tspan dy="-39" font-size="60">-1</tspan><tspan dy="39">FW)</tspan></text>
<text transform="matrix(0.309 0 0 0.307 596.237 419.3)" font-family='"Liberation Sans", Arial, sans-serif' font-weight="bold" font-size="100">E</text>
<text transform="matrix(0.143 0 0 0.17 636.546 413.71)" font-family='"Liberation Serif", "Times New Roman", serif' font-weight="normal" font-size="100" stroke="#000" stroke-width="3.833" stroke-linejoin="round">0.02</text>
<text transform="matrix(0.141 0 0 0.168 629.437 479.355)" font-family='"Liberation Serif", "Times New Roman", serif' font-weight="normal" font-size="100" stroke="#000" stroke-width="3.89" stroke-linejoin="round">0.016</text>
<text transform="matrix(0.141 0 0 0.168 629.86 544.995)" font-family='"Liberation Serif", "Times New Roman", serif' font-weight="normal" font-size="100" stroke="#000" stroke-width="3.89" stroke-linejoin="round">0.012</text>
<text transform="matrix(0.143 0 0 0.17 629.113 610.63)" font-family='"Liberation Serif", "Times New Roman", serif' font-weight="normal" font-size="100" stroke="#000" stroke-width="3.833" stroke-linejoin="round">0.008</text>
<text transform="matrix(0.143 0 0 0.17 628.828 676.27)" font-family='"Liberation Serif", "Times New Roman", serif' font-weight="normal" font-size="100" stroke="#000" stroke-width="3.833" stroke-linejoin="round">0.004</text>
<text transform="matrix(0.143 0 0 0.17 654.125 741.91)" font-family='"Liberation Serif", "Times New Roman", serif' font-weight="normal" font-size="100" stroke="#000" stroke-width="3.833" stroke-linejoin="round">0</text>
<text transform="matrix(0.193 0 0 0.239 735.315 771.461)" font-family='"Liberation Serif", "Times New Roman", serif' font-weight="normal" font-size="100" stroke="#000" stroke-width="2.777" stroke-linejoin="round">T337</text>
<text transform="matrix(0.198 0 0 0.239 901.007 771.461)" font-family='"Liberation Serif", "Times New Roman", serif' font-weight="normal" font-size="100" stroke="#000" stroke-width="2.745" stroke-linejoin="round">M26</text>
<text transform="matrix(0.2 0 0 0.239 1065.7 771.461)" font-family='"Liberation Serif", "Times New Roman", serif' font-weight="normal" font-size="100" stroke="#000" stroke-width="2.731" stroke-linejoin="round">12-2</text>
<text transform="matrix(0.199 0 0 0.21 852.054 445.34)" font-family='"Liberation Serif", "Times New Roman", serif' font-weight="normal" font-size="100" stroke="#000" stroke-width="2.446" stroke-linejoin="round">Infected</text>
<text transform="matrix(0.2 0 0 0.215 946.549 445.119)" font-family='"Liberation Serif", "Times New Roman", serif' font-weight="normal" font-size="100" stroke="#000" stroke-width="2.405" stroke-linejoin="round">Control</text>
<text transform="matrix(0 -0.23 0.205 0 620.6 711.46)" font-family='"Liberation Serif", "Times New Roman", serif' font-weight="bold" font-size="100" stroke="#000" stroke-width="1.151" stroke-linejoin="round"><tspan>MDA content (mmol·g</tspan><tspan dy="-39" font-size="60">-1</tspan><tspan dy="39">FW)</tspan></text>
<text transform="matrix(0.306 0 0 0.307 1203.158 419.3)" font-family='"Liberation Sans", Arial, sans-serif' font-weight="bold" font-size="100">F</text>
<text transform="matrix(0.141 0 0 0.167 1228.046 413.616)" font-family='"Liberation Serif", "Times New Roman", serif' font-weight="normal" font-size="100" stroke="#000" stroke-width="3.891" stroke-linejoin="round">0.45</text>
<text transform="matrix(0.141 0 0 0.167 1234.826 468.532)" font-family='"Liberation Serif", "Times New Roman", serif' font-weight="normal" font-size="100" stroke="#000" stroke-width="3.891" stroke-linejoin="round">0.4</text>
<text transform="matrix(0.141 0 0 0.167 1228.046 523.449)" font-family='"Liberation Serif", "Times New Roman", serif' font-weight="normal" font-size="100" stroke="#000" stroke-width="3.891" stroke-linejoin="round">0.35</text>
<text transform="matrix(0.141 0 0 0.167 1235.108 578.366)" font-family='"Liberation Serif", "Times New Roman", serif' font-weight="normal" font-size="100" stroke="#000" stroke-width="3.891" stroke-linejoin="round">0.3</text>
<text transform="matrix(0.141 0 0 0.167 1228.046 633.282)" font-family='"Liberation Serif", "Times New Roman", serif' font-weight="normal" font-size="100" stroke="#000" stroke-width="3.891" stroke-linejoin="round">0.25</text>
<text transform="matrix(0.141 0 0 0.167 1235.391 688.199)" font-family='"Liberation Serif", "Times New Roman", serif' font-weight="normal" font-size="100" stroke="#000" stroke-width="3.891" stroke-linejoin="round">0.2</text>
<text transform="matrix(0.139 0 0 0.165 1228.401 743.121)" font-family='"Liberation Serif", "Times New Roman", serif' font-weight="normal" font-size="100" stroke="#000" stroke-width="3.949" stroke-linejoin="round">0.15</text>
<text transform="matrix(0.189 0 0 0.233 1328.921 771.667)" font-family='"Liberation Serif", "Times New Roman", serif' font-weight="normal" font-size="100" stroke="#000" stroke-width="2.839" stroke-linejoin="round">T337</text>
<text transform="matrix(0.197 0 0 0.233 1497.508 771.667)" font-family='"Liberation Serif", "Times New Roman", serif' font-weight="normal" font-size="100" stroke="#000" stroke-width="2.787" stroke-linejoin="round">M26</text>
<text transform="matrix(0.2 0 0 0.233 1664.5 771.667)" font-family='"Liberation Serif", "Times New Roman", serif' font-weight="normal" font-size="100" stroke="#000" stroke-width="2.769" stroke-linejoin="round">12-2</text>
<text transform="matrix(0.198 0 0 0.224 1654.956 443.126)" font-family='"Liberation Serif", "Times New Roman", serif' font-weight="normal" font-size="100" stroke="#000" stroke-width="2.369" stroke-linejoin="round">Infected</text>
<text transform="matrix(0.197 0 0 0.218 1655.163 477.413)" font-family='"Liberation Serif", "Times New Roman", serif' font-weight="normal" font-size="100" stroke="#000" stroke-width="2.41" stroke-linejoin="round">Control</text>
<text transform="matrix(0 -0.229 0.205 0 1218.9 706.058)" font-family='"Liberation Serif", "Times New Roman", serif' font-weight="bold" font-size="100" stroke="#000" stroke-width="1.154" stroke-linejoin="round"><tspan>H</tspan><tspan dy="21" font-size="64">2</tspan><tspan dy="-21">O</tspan><tspan dy="21" font-size="64">2</tspan><tspan dy="-21"> content (μmol·g</tspan><tspan dy="-39" font-size="60">-1</tspan><tspan dy="39">FW)</tspan></text>
<text transform="matrix(0.312 0 0 0.324 0.053 816.176)" font-family='"Liberation Sans", Arial, sans-serif' font-weight="bold" font-size="100">G</text>
<text transform="matrix(0.139 0 0 0.165 51.722 811.421)" font-family='"Liberation Serif", "Times New Roman", serif' font-weight="normal" font-size="100" stroke="#000" stroke-width="3.949" stroke-linejoin="round">0.14</text>
<text transform="matrix(0.139 0 0 0.165 52.279 858.378)" font-family='"Liberation Serif", "Times New Roman", serif' font-weight="normal" font-size="100" stroke="#000" stroke-width="3.949" stroke-linejoin="round">0.12</text>
<text transform="matrix(0.139 0 0 0.165 59.238 905.335)" font-family='"Liberation Serif", "Times New Roman", serif' font-weight="normal" font-size="100" stroke="#000" stroke-width="3.949" stroke-linejoin="round">0.1</text>
<text transform="matrix(0.141 0 0 0.167 51.646 952.287)" font-family='"Liberation Serif", "Times New Roman", serif' font-weight="normal" font-size="100" stroke="#000" stroke-width="3.891" stroke-linejoin="round">0.08</text>
<text transform="matrix(0.141 0 0 0.167 51.504 999.244)" font-family='"Liberation Serif", "Times New Roman", serif' font-weight="normal" font-size="100" stroke="#000" stroke-width="3.891" stroke-linejoin="round">0.06</text>
<text transform="matrix(0.141 0 0 0.167 51.363 1046.201)" font-family='"Liberation Serif", "Times New Roman", serif' font-weight="normal" font-size="100" stroke="#000" stroke-width="3.891" stroke-linejoin="round">0.04</text>
<text transform="matrix(0.141 0 0 0.167 51.928 1093.159)" font-family='"Liberation Serif", "Times New Roman", serif' font-weight="normal" font-size="100" stroke="#000" stroke-width="3.891" stroke-linejoin="round">0.02</text>
<text transform="matrix(0.141 0 0 0.167 69.302 1140.116)" font-family='"Liberation Serif", "Times New Roman", serif' font-weight="normal" font-size="100" stroke="#000" stroke-width="3.891" stroke-linejoin="round">0</text>
<text transform="matrix(0.196 0 0 0.235 147.908 1168.765)" font-family='"Liberation Serif", "Times New Roman", serif' font-weight="normal" font-size="100" stroke="#000" stroke-width="2.784" stroke-linejoin="round">T337</text>
<text transform="matrix(0.199 0 0 0.235 309.502 1168.765)" font-family='"Liberation Serif", "Times New Roman", serif' font-weight="normal" font-size="100" stroke="#000" stroke-width="2.763" stroke-linejoin="round">M26</text>
<text transform="matrix(0.199 0 0 0.235 470.005 1168.765)" font-family='"Liberation Serif", "Times New Roman", serif' font-weight="normal" font-size="100" stroke="#000" stroke-width="2.763" stroke-linejoin="round">12-2</text>
<text transform="matrix(0.201 0 0 0.221 396.745 846.729)" font-family='"Liberation Serif", "Times New Roman", serif' font-weight="normal" font-size="100" stroke="#000" stroke-width="2.369" stroke-linejoin="round">Infected</text>
<text transform="matrix(0.197 0 0 0.23 491.163 846.891)" font-family='"Liberation Serif", "Times New Roman", serif' font-weight="normal" font-size="100" stroke="#000" stroke-width="2.346" stroke-linejoin="round">Control</text>
<text transform="matrix(0 -0.232 0.205 0 20.4 1065.958)" font-family='"Liberation Serif", "Times New Roman", serif' font-weight="bold" font-size="100" stroke="#000" stroke-width="1.146" stroke-linejoin="round"><tspan>O</tspan><tspan dy="21" font-size="64">2</tspan><tspan dy="-60" font-size="60">-</tspan><tspan dy="39"> production rate</tspan></text>
<text transform="matrix(0 -0.231 0.205 0 43.4 1066.425)" font-family='"Liberation Serif", "Times New Roman", serif' font-weight="bold" font-size="100" stroke="#000" stroke-width="1.147" stroke-linejoin="round"><tspan>(μmol·g</tspan><tspan dy="-39" font-size="60">-1</tspan><tspan dy="39">·min</tspan><tspan dy="-39" font-size="60">-1</tspan><tspan dy="39">FW)</tspan></text>
<text transform="matrix(0.326 0 0 0.326 595.819 816)" font-family='"Liberation Sans", Arial, sans-serif' font-weight="bold" font-size="100">H</text>
<text transform="matrix(0.145 0 0 0.173 628.944 811.677)" font-family='"Liberation Serif", "Times New Roman", serif' font-weight="normal" font-size="100" stroke="#000" stroke-width="3.776" stroke-linejoin="round">2.5</text>
<text transform="matrix(0.147 0 0 0.175 640.018 894.025)" font-family='"Liberation Serif", "Times New Roman", serif' font-weight="normal" font-size="100" stroke="#000" stroke-width="3.719" stroke-linejoin="round">2</text>
<text transform="matrix(0.143 0 0 0.17 629.206 976.03)" font-family='"Liberation Serif", "Times New Roman", serif' font-weight="normal" font-size="100" stroke="#000" stroke-width="3.833" stroke-linejoin="round">1.5</text>
<text transform="matrix(0.145 0 0 0.173 640.116 1058.375)" font-family='"Liberation Serif", "Times New Roman", serif' font-weight="normal" font-size="100" stroke="#000" stroke-width="3.776" stroke-linejoin="round">1</text>
<text transform="matrix(0.143 0 0 0.17 629.206 1140.21)" font-family='"Liberation Serif", "Times New Roman", serif' font-weight="normal" font-size="100" stroke="#000" stroke-width="3.833" stroke-linejoin="round">0.5</text>
<text transform="matrix(0.19 0 0 0.235 724.119 1168.765)" font-family='"Liberation Serif", "Times New Roman", serif' font-weight="normal" font-size="100" stroke="#000" stroke-width="2.823" stroke-linejoin="round">T337</text>
<text transform="matrix(0.2 0 0 0.235 894.1 1168.765)" font-family='"Liberation Serif", "Times New Roman", serif' font-weight="normal" font-size="100" stroke="#000" stroke-width="2.76" stroke-linejoin="round">M26</text>
<text transform="matrix(0.201 0 0 0.235 1063.289 1168.765)" font-family='"Liberation Serif", "Times New Roman", serif' font-weight="normal" font-size="100" stroke="#000" stroke-width="2.752" stroke-linejoin="round">12-2</text>
<text transform="matrix(0.2 0 0 0.217 1053.749 840.933)" font-family='"Liberation Serif", "Times New Roman", serif' font-weight="normal" font-size="100" stroke="#000" stroke-width="2.398" stroke-linejoin="round">Infected</text>
<text transform="matrix(0.197 0 0 0.21 1054.361 874.93)" font-family='"Liberation Serif", "Times New Roman", serif' font-weight="normal" font-size="100" stroke="#000" stroke-width="2.456" stroke-linejoin="round">Control</text>
<text transform="matrix(0 -0.231 0.205 0 620.6 1102.763)" font-family='"Liberation Serif", "Times New Roman", serif' font-weight="bold" font-size="100" stroke="#000" stroke-width="1.147" stroke-linejoin="round"><tspan>Proline content (μg·g</tspan><tspan dy="-39" font-size="60">-1</tspan><tspan dy="39">FW)</tspan></text>
<text transform="matrix(0.364 0 0 0.317 1202.65 815.8)" font-family='"Liberation Sans", Arial, sans-serif' font-weight="bold" font-size="100">I</text>
<text transform="matrix(0.136 0 0 0.168 1229.251 811.115)" font-family='"Liberation Serif", "Times New Roman", serif' font-weight="normal" font-size="100" stroke="#000" stroke-width="3.955" stroke-linejoin="round">0.21</text>
<text transform="matrix(0.136 0 0 0.168 1228.979 858.129)" font-family='"Liberation Serif", "Times New Roman", serif' font-weight="normal" font-size="100" stroke="#000" stroke-width="3.955" stroke-linejoin="round">0.19</text>
<text transform="matrix(0.136 0 0 0.168 1228.843 905.143)" font-family='"Liberation Serif", "Times New Roman", serif' font-weight="normal" font-size="100" stroke="#000" stroke-width="3.955" stroke-linejoin="round">0.17</text>
<text transform="matrix(0.136 0 0 0.168 1228.979 952.158)" font-family='"Liberation Serif", "Times New Roman", serif' font-weight="normal" font-size="100" stroke="#000" stroke-width="3.955" stroke-linejoin="round">0.15</text>
<text transform="matrix(0.136 0 0 0.168 1228.979 999.172)" font-family='"Liberation Serif", "Times New Roman", serif' font-weight="normal" font-size="100" stroke="#000" stroke-width="3.955" stroke-linejoin="round">0.13</text>
<text transform="matrix(0.136 0 0 0.168 1229.794 1046.186)" font-family='"Liberation Serif", "Times New Roman", serif' font-weight="normal" font-size="100" stroke="#000" stroke-width="3.955" stroke-linejoin="round">0.11</text>
<text transform="matrix(0.138 0 0 0.17 1228.633 1093.195)" font-family='"Liberation Serif", "Times New Roman", serif' font-weight="normal" font-size="100" stroke="#000" stroke-width="3.896" stroke-linejoin="round">0.09</text>
<text transform="matrix(0.138 0 0 0.17 1228.495 1140.21)" font-family='"Liberation Serif", "Times New Roman", serif' font-weight="normal" font-size="100" stroke="#000" stroke-width="3.896" stroke-linejoin="round">0.07</text>
<text transform="matrix(0.193 0 0 0.235 1329.115 1168.765)" font-family='"Liberation Serif", "Times New Roman", serif' font-weight="normal" font-size="100" stroke="#000" stroke-width="2.807" stroke-linejoin="round">T337</text>
<text transform="matrix(0.201 0 0 0.235 1497.197 1168.765)" font-family='"Liberation Serif", "Times New Roman", serif' font-weight="normal" font-size="100" stroke="#000" stroke-width="2.753" stroke-linejoin="round">M26</text>
<text transform="matrix(0.199 0 0 0.235 1665.505 1168.765)" font-family='"Liberation Serif", "Times New Roman", serif' font-weight="normal" font-size="100" stroke="#000" stroke-width="2.763" stroke-linejoin="round">12-2</text>
<text transform="matrix(0.198 0 0 0.222 1655.159 840.828)" font-family='"Liberation Serif", "Times New Roman", serif' font-weight="normal" font-size="100" stroke="#000" stroke-width="2.381" stroke-linejoin="round">Infected</text>
<text transform="matrix(0.197 0 0 0.221 1655.163 874.908)" font-family='"Liberation Serif", "Times New Roman", serif' font-weight="normal" font-size="100" stroke="#000" stroke-width="2.394" stroke-linejoin="round">Control</text>
<text transform="matrix(0 -0.231 0.205 0 1220.2 1097.556)" font-family='"Liberation Serif", "Times New Roman", serif' font-weight="bold" font-size="100" stroke="#000" stroke-width="1.148" stroke-linejoin="round"><tspan>Soluble sugar (mg·g</tspan><tspan dy="-39" font-size="60">-1</tspan><tspan dy="39">FW)</tspan></text></svg>
</body></html>
